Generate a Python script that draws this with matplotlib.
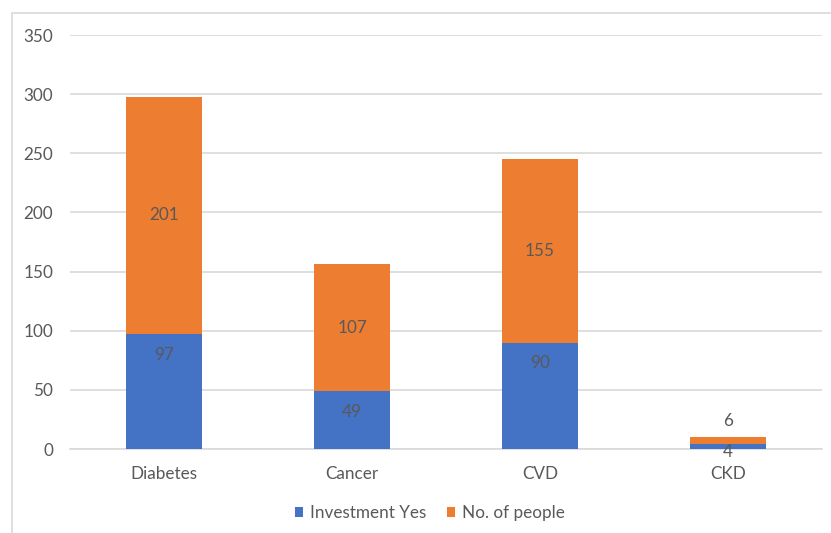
import numpy as np
import matplotlib
matplotlib.use("Agg")
import matplotlib.pyplot as plt
from matplotlib.patches import Rectangle

# Chart data
categories = ["Diabetes", "Cancer", "CVD", "CKD"]
investment_yes = [97, 49, 90, 4]
no_of_people = [201, 107, 155, 6]
y_ticks = [0, 50, 100, 150, 200, 250, 300, 350]

blue = "#4472C4"
orange = "#ED7D31"
grey_text = "#595959"
grid_col = "#D9D9D9"
fs = 12.3

plt.rcParams["font.family"] = ["Lato", "DejaVu Sans"]

fig = plt.figure(figsize=(8.31, 5.33), dpi=100)
W, H = 831, 533
ax = fig.add_axes([70 / W, 1 - 449 / H, (822 - 70) / W, (449 - 35) / H])

# chart border (only left/top visible in the crop)
fig.patches.append(Rectangle((12 / W, -0.1), 1.2, (1 - 13 / H) + 0.1,
                             transform=fig.transFigure, fill=False,
                             edgecolor="#D9D9D9", linewidth=1.2))

x = np.arange(len(categories))
w = 0.4
b1 = ax.bar(x, investment_yes, w, color=blue, label="Investment Yes", zorder=3)
b2 = ax.bar(x, no_of_people, w, bottom=investment_yes, color=orange,
            label="No. of people", zorder=3)

ax.set_xlim(-0.5, len(categories) - 0.5)
ax.set_ylim(0, 350)
ax.set_yticks(y_ticks)
ax.set_xticks(x)
ax.set_xticklabels(categories)
ax.tick_params(length=0, labelsize=fs, colors=grey_text)
ax.tick_params(axis="y", pad=12)
ax.tick_params(axis="x", pad=12)
ax.grid(axis="y", color=grid_col, linewidth=1.2, zorder=0)
for s in ["top", "right", "left"]:
    ax.spines[s].set_visible(False)
ax.spines["bottom"].set_color(grid_col)
ax.spines["bottom"].set_linewidth(1.2)

# data labels: blue near the top of its segment, orange centred
for i, (a, b) in enumerate(zip(investment_yes, no_of_people)):
    if a + b < 20:
        ax.annotate(str(b), (i, a + b / 2), xytext=(0, 14), textcoords="offset points",
                    ha="center", va="center", fontsize=fs, color=grey_text)
        ax.annotate(str(a), (i, a / 2), xytext=(0, -4), textcoords="offset points",
                    ha="center", va="center", fontsize=fs, color=grey_text, zorder=5)
    else:
        ax.annotate(str(a), (i, a), xytext=(0, -15), textcoords="offset points",
                    ha="center", va="center", fontsize=fs, color=grey_text, zorder=5)
        ax.text(i, a + b / 2, str(b), ha="center", va="center", fontsize=fs,
                color=grey_text, zorder=5)

fig.legend(handles=[b1, b2], loc="center", bbox_to_anchor=(430 / W, 1 - 513 / H),
           ncol=2, frameon=False, fontsize=fs, labelcolor=grey_text,
           handlelength=0.5, handleheight=0.5, handletextpad=0.4, columnspacing=1.2)

fig.savefig("out.png", dpi=100)
